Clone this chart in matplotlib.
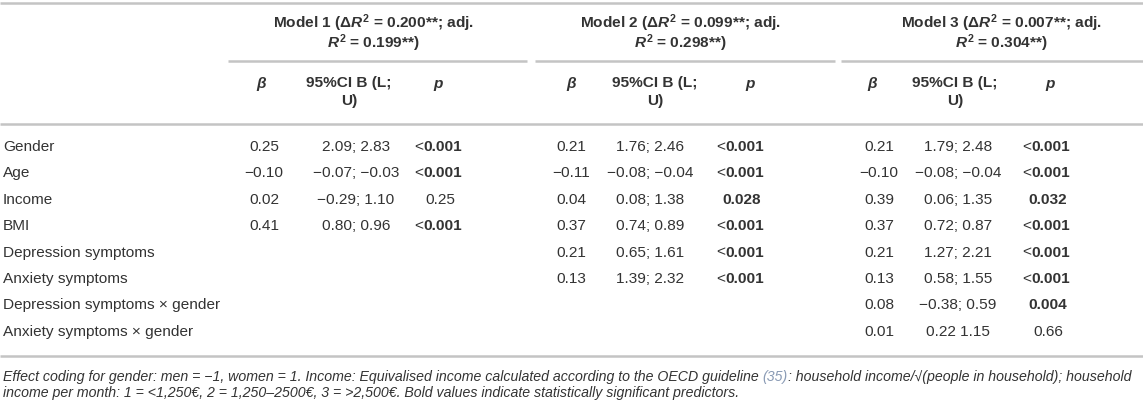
import matplotlib
matplotlib.use('Agg')
import matplotlib.pyplot as plt

plt.rcParams['font.family'] = ['Liberation Sans', 'DejaVu Sans']
plt.rcParams['mathtext.fontset'] = 'custom'
plt.rcParams['mathtext.rm'] = 'Liberation Sans:bold'
plt.rcParams['mathtext.it'] = 'Liberation Sans:italic:bold'
plt.rcParams['mathtext.bf'] = 'Liberation Sans:bold'

TEXT = '#333333'
RULE = '#c4c4c4'

# ---- table content ----
predictors = ['Gender', 'Age', 'Income', 'BMI', 'Depression symptoms',
              'Anxiety symptoms', 'Depression symptoms \u00d7 gender',
              'Anxiety symptoms \u00d7 gender']

model_titles = [
    (r'Model 1 ($\Delta R^2$ = 0.200**; adj.', r'$R^2$ = 0.199**)'),
    (r'Model 2 ($\Delta R^2$ = 0.099**; adj.', r'$R^2$ = 0.298**)'),
    (r'Model 3 ($\Delta R^2$ = 0.007**; adj.', r'$R^2$ = 0.304**)'),
]

m1_beta = ['0.25', '\u22120.10', '0.02', '0.41']
m1_ci = ['2.09; 2.83', '\u22120.07; \u22120.03', '\u22120.29; 1.10', '0.80; 0.96']
m1_p = ['<0.001', '<0.001', '0.25', '<0.001']

m2_beta = ['0.21', '\u22120.11', '0.04', '0.37', '0.21', '0.13']
m2_ci = ['1.76; 2.46', '\u22120.08; \u22120.04', '0.08; 1.38', '0.74; 0.89',
         '0.65; 1.61', '1.39; 2.32']
m2_p = ['<0.001', '<0.001', '0.028', '<0.001', '<0.001', '<0.001']

m3_beta = ['0.21', '\u22120.10', '0.39', '0.37', '0.21', '0.13', '0.08', '0.01']
m3_ci = ['1.79; 2.48', '\u22120.08; \u22120.04', '0.06; 1.35', '0.72; 0.87',
         '1.27; 2.21', '0.58; 1.55', '\u22120.38; 0.59', '0.22 1.15']
m3_p = ['<0.001', '<0.001', '0.032', '<0.001', '<0.001', '<0.001', '0.004', '0.66']

significant_cut = 0.05

footnote_1 = ('Effect coding for gender: men = \u22121, women = 1. Income: Equivalised income '
              'calculated according to the OECD guideline ')
footnote_ref = '(35)'
footnote_1b = ': household income/\u221a(people in household); household'
footnote_2 = ('income per month: 1 = <1,250\u20ac, 2 = 1,250\u20132500\u20ac, 3 = >2,500\u20ac. '
              'Bold values indicate statistically significant predictors.')

# ---- layout (pixels) ----
W, H = 1143, 400
FS = 11.1
row_y0, row_dy = 147, 26.4
col_x = [(264, 356, 440), (571, 650, 742), (879, 958, 1048)]
head_x = [(262, 349, 438), (572, 655, 750), (873, 955, 1050)]
title_x = [373, 680, 1001]
group_rule = [(228, 527), (535, 835), (841, 1143)]

fig = plt.figure(figsize=(W / 100, H / 100), dpi=100)
ax = fig.add_axes([0, 0, 1, 1])
ax.set_xlim(0, W)
ax.set_ylim(H, 0)
ax.axis('off')

# rules
for y in (3, 124, 356):
    ax.plot([0, W], [y, y], color=RULE, lw=1.8, solid_capstyle='butt')
for x0, x1 in group_rule:
    ax.plot([x0, x1], [61, 61], color=RULE, lw=1.8, solid_capstyle='butt')

# model headers
for (l1, l2), tx in zip(model_titles, title_x):
    ax.text(tx, 23, l1, ha='center', va='center', fontsize=FS,
            fontweight='bold', color=TEXT)
    ax.text(tx, 43, l2, ha='center', va='center', fontsize=FS,
            fontweight='bold', color=TEXT)

# sub headers
for bx, cx, px in head_x:
    ax.text(bx, 84, r'$\beta$', ha='center', va='center', fontsize=FS, color=TEXT)
    ax.text(cx, 83, '95%CI B (L;', ha='center', va='center', fontsize=FS,
            fontweight='bold', color=TEXT)
    ax.text(cx, 101, 'U)', ha='center', va='center', fontsize=FS,
            fontweight='bold', color=TEXT)
    ax.text(px, 84, 'p', ha='center', va='center', fontsize=FS,
            fontweight='bold', style='italic', color=TEXT)

# predictor labels
for i, name in enumerate(predictors):
    ax.text(3, row_y0 + i * row_dy, name, ha='left', va='center',
            fontsize=FS, color=TEXT)


def draw_p(x, y, val):
    if val.startswith('<'):
        # "<" regular, number bold, whole string centred at x
        t = ax.text(x + 3, y, val[1:], ha='center', va='center', fontsize=FS,
                    fontweight='bold', color=TEXT)
        fig.canvas.draw()
        bb = t.get_window_extent().transformed(ax.transData.inverted())
        ax.text(bb.x0, y, '<', ha='right', va='center', fontsize=FS, color=TEXT)
    else:
        bold = float(val) < significant_cut
        ax.text(x, y, val, ha='center', va='center', fontsize=FS,
                fontweight='bold' if bold else 'normal', color=TEXT)


models = [(m1_beta, m1_ci, m1_p), (m2_beta, m2_ci, m2_p), (m3_beta, m3_ci, m3_p)]
for (betas, cis, ps), (bx, cx, px) in zip(models, col_x):
    for i, (b, c, p) in enumerate(zip(betas, cis, ps)):
        y = row_y0 + i * row_dy
        ax.text(bx, y, b, ha='center', va='center', fontsize=FS, color=TEXT)
        ax.text(cx, y, c, ha='center', va='center', fontsize=FS, color=TEXT)
        draw_p(px, y, p)

# footnote, font size fitted so line 1 spans the table width
fig.canvas.draw()
inv = ax.transData.inverted()
probe = ax.text(3, 0, footnote_1 + footnote_ref + footnote_1b, fontsize=10,
                style='italic')
fig.canvas.draw()
pw = probe.get_window_extent().transformed(inv).width
probe.remove()
fn_fs = 10 * (1137 - 3) / pw

parts = [(footnote_1, TEXT), (footnote_ref, '#8a9bb5'), (footnote_1b, TEXT)]
x = 3
for txt, col in parts:
    t = ax.text(x, 377, txt, ha='left', va='center', fontsize=fn_fs,
                style='italic', color=col)
    fig.canvas.draw()
    x = t.get_window_extent().transformed(inv).x1
ax.text(3, 393, footnote_2, ha='left', va='center', fontsize=fn_fs,
        style='italic', color=TEXT)

fig.savefig('out.png', dpi=100, facecolor='white')
